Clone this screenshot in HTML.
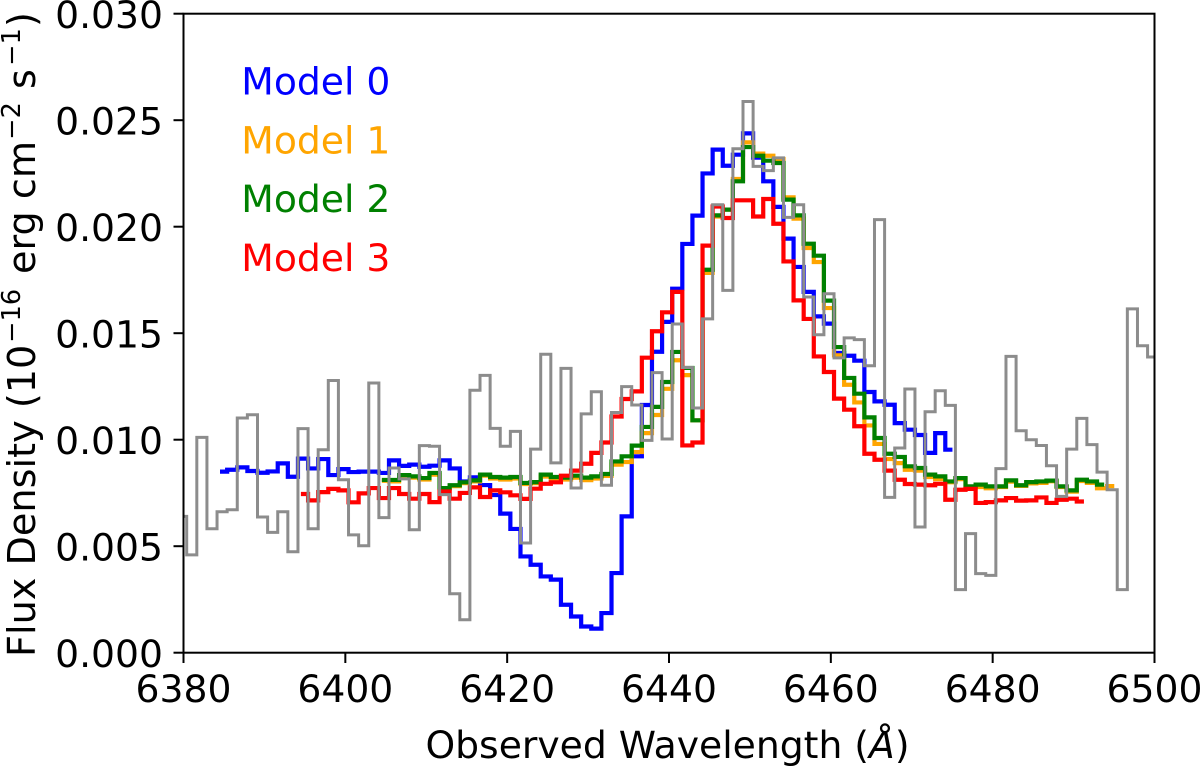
<!DOCTYPE html>
<html lang="en">
<head>
<meta charset="utf-8">
<title>Flux density spectrum</title>
<style>
html,body{margin:0;padding:0;background:#fff;width:1200px;height:766px;overflow:hidden}
svg{display:block}
text{font-family:"DejaVu Sans","Liberation Sans",sans-serif;font-size:37.7px;fill:#000}
</style>
</head>
<body>
<svg id="chart" xmlns="http://www.w3.org/2000/svg" width="1200" height="766" viewBox="0 0 1200 766">
  <defs><clipPath id="plot-clip"><rect x="183.5" y="13.7" width="971" height="639"/></clipPath></defs>
  <g id="series-layer" clip-path="url(#plot-clip)"></g>
  <g id="tick-layer"></g>
  <rect x="183.5" y="13.7" width="971" height="639" fill="none" stroke="#000" stroke-width="2"/>
  <g>
    <text x="241.3" y="94.3" style="fill:#0000ff">Model 0</text>
    <text x="241.3" y="153.3" style="fill:#ffa500">Model 1</text>
    <text x="241.3" y="212" style="fill:#008000">Model 2</text>
    <text x="241.3" y="271" style="fill:#ff0000">Model 3</text>
  </g>
  <text x="667.5" y="758" text-anchor="middle">Observed Wavelength (<tspan font-style="italic">Å</tspan>)</text>
  <text transform="translate(35,657) rotate(-90)" x="0" y="0" style="font-size:38.2px">Flux Density (10<tspan x="314.3" dy="-15" style="font-size:25.5px">−16</tspan><tspan x="370.9" dy="15"> erg cm</tspan><tspan x="517.3" dy="-15" style="font-size:25.5px">−2</tspan><tspan x="555.9" dy="15"> s</tspan><tspan x="591.3" dy="-15" style="font-size:25.5px">−1</tspan><tspan x="630" dy="15">)</tspan></text>
</svg>
<script>
// Wavelength grid (Angstrom)
const gridStart = 6379.77;
const gridStep = 1.25;
// Series values, in units of 1e-3 flux density
const observedStartBin = 0;
const observedValues = [6.40,4.59,10.11,5.82,6.62,6.71,11.02,11.17,6.37,5.65,6.62,4.74,10.52,5.82,9.53,12.78,8.12,5.53,5.02,12.66,6.34,8.67,8.16,5.77,9.72,9.69,7.42,2.77,1.55,12.32,13.02,10.53,9.69,10.39,5.15,9.56,14.01,8.91,13.35,7.73,11.21,12.25,7.86,11.28,12.49,11.63,9.97,13.15,10.03,15.43,13.39,11.49,15.67,21.03,17.01,23.66,25.88,22.83,22.63,23.23,20.44,21.03,16.70,14.93,16.85,13.84,14.78,14.70,13.47,20.33,7.29,9.61,12.38,5.90,11.31,12.30,11.61,2.96,5.59,3.71,3.63,8.64,13.91,10.42,10.00,9.73,8.78,7.34,9.56,11.00,9.77,8.48,7.65,2.96,16.14,14.41,13.88];
const model0StartBin = 4;
const model0Values = [8.50,8.59,8.70,8.53,8.45,8.51,8.89,8.26,9.11,8.65,9.09,8.34,8.62,8.48,8.50,8.50,8.44,9.03,8.77,8.83,8.73,8.78,9.03,8.65,8.04,8.23,7.87,7.40,6.53,5.81,4.52,4.13,3.58,3.43,2.25,1.70,1.23,1.13,1.86,3.74,6.40,9.22,11.63,14.13,15.53,17.09,19.19,20.52,22.50,23.62,22.86,23.38,24.38,23.24,22.13,20.93,19.44,18.11,16.94,15.79,15.45,14.07,13.94,13.71,12.24,11.80,11.64,10.78,10.47,10.22,9.38,10.31,9.53];
const model1StartBin = 20;
const model1Values = [8.07,8.04,8.28,8.22,8.13,8.36,7.70,7.82,7.96,8.04,8.31,8.18,8.13,8.18,7.92,7.96,8.27,8.15,8.13,8.22,8.10,8.18,8.30,8.83,8.95,9.42,10.31,11.16,12.39,13.73,13.03,10.91,17.83,20.48,20.80,22.24,23.96,23.43,23.33,23.18,21.38,20.38,19.00,18.34,16.18,13.96,12.58,11.75,10.67,9.80,9.09,8.90,8.59,8.55,8.25,8.15,8.00,8.15,7.75,7.78,7.72,7.78,8.03,7.83,7.95,7.97,8.05,7.78,7.56,8.06,7.97,7.72,7.82];
const model2StartBin = 20;
const model2Values = [8.11,8.11,8.34,8.28,8.20,8.44,7.73,7.86,8.00,8.09,8.36,8.25,8.22,8.25,7.97,8.01,8.36,8.25,8.22,8.31,8.22,8.28,8.39,8.98,9.22,9.72,10.60,11.54,12.71,14.12,13.37,10.91,17.98,20.53,20.80,22.13,23.74,23.33,23.10,22.99,21.27,20.53,19.20,18.64,16.53,14.35,12.90,12.16,11.05,10.08,9.34,9.19,8.75,8.67,8.36,8.28,8.04,8.20,7.81,7.89,7.81,7.81,8.09,7.86,8.01,8.04,8.08,7.81,7.62,8.12,8.04,7.89];
const model3StartBin = 12;
const model3Values = [7.45,7.15,7.54,7.69,7.62,7.06,7.48,7.73,7.26,7.73,7.45,7.23,7.45,7.07,7.57,7.23,7.50,7.76,7.31,7.62,7.53,7.39,7.22,7.70,7.93,8.00,8.31,8.55,8.87,9.38,9.87,11.09,11.91,12.27,13.85,15.09,15.98,16.94,9.73,9.87,19.11,20.95,20.41,21.24,21.24,20.48,21.30,20.14,18.37,16.54,15.67,13.91,13.18,11.93,11.41,10.63,9.34,9.06,8.55,8.12,7.92,7.89,7.86,7.93,7.18,7.65,7.69,7.03,7.07,7.15,7.26,7.14,7.15,7.29,7.03,7.18,7.23,7.10];
// Axis ticks
const xTicks = [6380,6400,6420,6440,6460,6480,6500];
const yTicks = [0,5,10,15,20,25,30];
const yTickLabels = ['0.000','0.005','0.010','0.015','0.020','0.025','0.030'];

const NS = 'http://www.w3.org/2000/svg';
const xScale = w => 183.5 + (w - 6380) * (971 / 120);
const yScale = v => 652.7 - v * (639 / 30);

function stepPath(startBin, values) {
  let d = '';
  values.forEach((v, i) => {
    const w = gridStart + (startBin + i) * gridStep;
    if (i === 0) {
      d += 'M' + xScale(w).toFixed(2) + ' ' + yScale(v).toFixed(2);
    } else {
      d += 'H' + xScale(w - gridStep / 2).toFixed(2) + 'V' + yScale(v).toFixed(2);
    }
    if (i === values.length - 1) {
      d += 'H' + xScale(w).toFixed(2);
    }
  });
  return d;
}

const seriesLayer = document.getElementById('series-layer');
function addSeries(name, startBin, values, color, width) {
  const p = document.createElementNS(NS, 'path');
  
  
  p.setAttribute('d', stepPath(startBin, values));
  p.setAttribute('fill', 'none');
  p.setAttribute('stroke', color);
  p.setAttribute('stroke-width', width);
  p.setAttribute('stroke-linejoin', 'miter');
  p.setAttribute('stroke-linecap', 'square');
  seriesLayer.appendChild(p);
}
addSeries('model-0-line', model0StartBin, model0Values, '#0000ff', 4.2);
addSeries('model-1-line', model1StartBin, model1Values, '#ffa500', 4.2);
addSeries('model-2-line', model2StartBin, model2Values, '#008000', 4.2);
addSeries('model-3-line', model3StartBin, model3Values, '#ff0000', 4.2);
addSeries('observed-spectrum-line', observedStartBin, observedValues, '#8c8c8c', 3);

const tickLayer = document.getElementById('tick-layer');
xTicks.forEach(t => {
  const x = xScale(t);
  const line = document.createElementNS(NS, 'line');
  
  
  line.setAttribute('x1', x);
  line.setAttribute('x2', x);
  line.setAttribute('y1', 652.7);
  line.setAttribute('y2', 663);
  line.setAttribute('stroke', '#000');
  line.setAttribute('stroke-width', 2);
  tickLayer.appendChild(line);
  const label = document.createElementNS(NS, 'text');
  
  
  label.setAttribute('x', x);
  label.setAttribute('y', 702);
  label.setAttribute('text-anchor', 'middle');
  label.textContent = String(t);
  tickLayer.appendChild(label);
});
yTicks.forEach((t, i) => {
  const y = yScale(t);
  const line = document.createElementNS(NS, 'line');
  
  
  line.setAttribute('x1', 173.5);
  line.setAttribute('x2', 183.5);
  line.setAttribute('y1', y);
  line.setAttribute('y2', y);
  line.setAttribute('stroke', '#000');
  line.setAttribute('stroke-width', 2);
  tickLayer.appendChild(line);
  const label = document.createElementNS(NS, 'text');
  
  
  label.setAttribute('x', 163);
  label.setAttribute('y', y + 14.5);
  label.setAttribute('text-anchor', 'end');
  label.textContent = yTickLabels[i];
  tickLayer.appendChild(label);
});
</script>
</body>
</html>
